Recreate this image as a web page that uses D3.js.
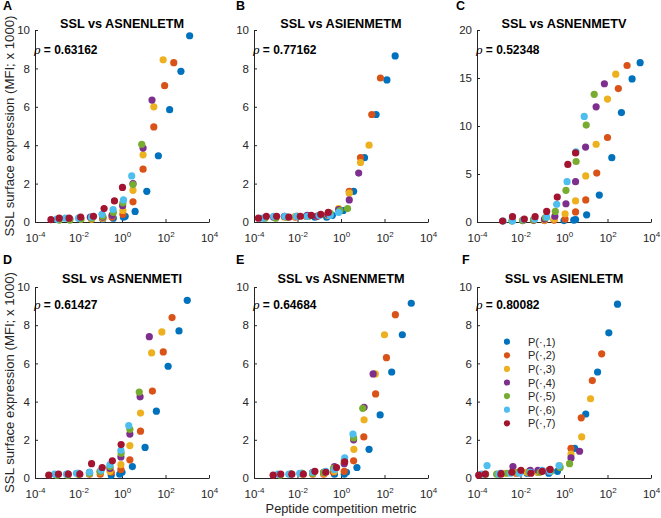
<!DOCTYPE html>
<html><head><meta charset="utf-8">
<script src="https://cdn.jsdelivr.net/npm/d3@7"></script>
<style>
body{margin:0;background:#fff}
svg{display:block}
text{font-family:"Liberation Sans",Arial,Helvetica,sans-serif}
</style>
</head><body>
<svg id="chart" width="661" height="518"></svg>
<script>
// ---------------- DATA ----------------
const panelLetters = ["A","B","C","D","E","F"];
const panelTitles = ["SSL vs ASNENLETM","SSL vs ASIENMETM","SSL vs ASNENMETV","SSL vs ASNENMETI","SSL vs ASNENMETM","SSL vs ASIENLETM"];
const rhoValues = ["0.63162","0.77162","0.52348","0.61427","0.64684","0.80082"];
const yMaxes = [10,10,20,10,10,10];
const yTickSets = [[0,2,4,6,8,10],[0,2,4,6,8,10],[0,5,10,15,20],[0,2,4,6,8,10],[0,2,4,6,8,10],[0,2,4,6,8,10]];
const xTickExponents = [-4,-2,0,2,4];
const seriesNames = ["P(\u00B7,1)","P(\u00B7,2)","P(\u00B7,3)","P(\u00B7,4)","P(\u00B7,5)","P(\u00B7,6)","P(\u00B7,7)"];
const seriesColors = ["#0072BD","#D95319","#EDB120","#7E2F8E","#77AC30","#4DBEEE","#A2142F"];
const yAxisLabel = "SSL surface expression (MFI; x 1000)";
const xAxisLabel = "Peptide competition metric";

// [peptide competition metric, SSL surface expression] per series P(·,1..7)
const pointsA = [
  [[1290,9.7],[513,7.85],[155,5.85],[47,3.45],[13.8,1.6],[4.0,0.55],[1.4,0.3],[1.17,0.25],[0.4,0.2],[0.13,0.15]],
  [[240,8.3],[91,7.1],[29,4.95],[9.3,2.75],[3.2,1.05],[1.1,0.4],[0.35,0.25],[0.13,0.2],[0.04,0.15]],
  [[78,8.45],[29,6.0],[9.3,3.5],[3.2,1.65],[1.1,0.6],[0.35,0.35],[0.13,0.2],[0.04,0.15],[0.013,0.15]],
  [[24,6.35],[9.3,3.85],[3.2,2.0],[1.07,0.85],[0.35,0.35],[0.13,0.25],[0.035,0.25],[0.011,0.2],[0.004,0.15]],
  [[8.1,4.05],[3.2,1.95],[1.1,1.0],[0.4,0.5],[0.13,0.3],[0.04,0.2],[0.013,0.15],[0.004,0.1],[0.0013,0.1]],
  [[2.8,2.4],[1.17,1.15],[0.39,0.65],[0.12,0.4],[0.04,0.25],[0.01,0.2],[0.0025,0.2],[0.001,0.15]],
  [[1.05,1.8],[0.45,1.1],[0.15,0.7],[0.049,0.3],[0.0126,0.25],[0.0037,0.2],[0.0013,0.2],[0.00054,0.12]]
];
const pointsB = [
  [[309,8.65],[129,7.4],[41,5.6],[12,3.35],[3.8,1.6],[1.26,0.6],[0.4,0.35],[0.22,0.25],[0.063,0.25]],
  [[65,7.5],[26,5.6],[7.9,3.35],[2.4,1.6],[0.79,0.65],[0.25,0.4],[0.079,0.3],[0.025,0.3],[0.0079,0.25]],
  [[19.5,4.0],[7.9,3.1],[2.4,1.5],[0.78,0.7],[0.25,0.35],[0.079,0.3],[0.028,0.3],[0.0079,0.3],[0.0025,0.25]],
  [[6.5,2.55],[2.4,1.15],[0.78,0.65],[0.25,0.4],[0.079,0.3],[0.028,0.35],[0.01,0.3],[0.0025,0.3],[0.0008,0.25]],
  [[2.0,0.7],[0.89,0.6],[0.32,0.45],[0.1,0.35],[0.032,0.3],[0.01,0.3],[0.0032,0.25],[0.001,0.2],[0.00032,0.2]],
  [[0.78,0.5],[0.32,0.35],[0.1,0.35],[0.028,0.3],[0.0089,0.3],[0.0026,0.3],[0.0008,0.3],[0.00025,0.2]],
  [[0.26,0.5],[0.117,0.4],[0.043,0.35],[0.0135,0.3],[0.004,0.25],[0.0011,0.3],[0.00037,0.3],[0.00016,0.2]]
];
const pointsC = [
  [[3160,16.6],[1350,14.9],[437,11.4],[158,6.7],[42,2.8],[11,0.75],[3.4,0.25],[2.8,0.2],[1.0,0.15]],
  [[794,16.3],[316,13.9],[100,8.8],[32,5.1],[10,2.3],[3.4,1.05],[1.12,0.3],[0.35,0.2],[0.126,0.15]],
  [[240,15.4],[100,12.8],[30,8.1],[10,4.8],[3.4,2.2],[1.12,0.85],[0.35,0.3],[0.126,0.2],[0.04,0.15]],
  [[72,14.4],[30,12.0],[9.8,7.8],[3.4,4.2],[1.23,1.9],[0.38,0.6],[0.126,0.3],[0.04,0.2],[0.0126,0.15]],
  [[24.5,13.3],[10.5,10.1],[3.6,6.3],[1.23,3.3],[0.4,1.1],[0.14,0.45],[0.04,0.25],[0.0126,0.15],[0.004,0.1]],
  [[8.5,11.0],[3.55,7.3],[1.38,4.2],[0.46,1.85],[0.16,0.5],[0.045,0.3],[0.014,0.25],[0.0043,0.1],[0.0016,0.1]],
  [[3.4,7.2],[1.5,6.0],[0.49,2.6],[0.16,1.1],[0.047,0.55],[0.015,0.3],[0.0043,0.55],[0.0015,0.1]]
];
const pointsD = [
  [[1000,9.3],[417,7.7],[132,5.85],[38,3.5],[11.5,1.6],[3.0,0.6],[1.0,0.3],[0.79,0.2],[0.32,0.15]],
  [[200,8.4],[79,6.6],[25,4.55],[7.1,2.45],[2.3,0.95],[0.89,0.45],[0.32,0.3],[0.1,0.2],[0.032,0.2]],
  [[68,7.65],[23,6.55],[7.1,3.4],[2.3,1.7],[0.89,0.7],[0.28,0.35],[0.1,0.3],[0.032,0.25],[0.01,0.2]],
  [[18,7.4],[6.8,4.25],[2.3,2.3],[0.89,1.1],[0.28,0.5],[0.1,0.35],[0.032,0.3],[0.01,0.25],[0.0032,0.2]],
  [[6.2,4.5],[2.3,2.55],[0.91,1.3],[0.28,0.6],[0.1,0.35],[0.032,0.25],[0.01,0.2],[0.0032,0.15],[0.001,0.15]],
  [[2.04,2.75],[0.89,1.45],[0.28,0.7],[0.11,0.4],[0.032,0.3],[0.008,0.25],[0.0028,0.2],[0.0008,0.2]],
  [[0.91,1.75],[0.36,0.9],[0.123,0.55],[0.04,0.75],[0.0115,0.2],[0.0034,0.2],[0.0012,0.2],[0.00043,0.15]]
];
const pointsE = [
  [[1700,9.15],[660,7.5],[214,5.55],[63,3.3],[19.5,1.5],[5.4,0.55],[1.78,0.3],[1.41,0.2],[0.5,0.2]],
  [[316,8.55],[123,6.3],[39,4.4],[11.2,2.15],[3.8,0.9],[1.41,0.35],[0.45,0.3],[0.16,0.2],[0.05,0.2]],
  [[100,7.5],[38,5.45],[11.5,3.05],[3.9,1.5],[1.41,0.8],[0.5,0.35],[0.16,0.25],[0.05,0.25],[0.016,0.2]],
  [[30,5.45],[11.5,3.7],[3.8,2.0],[1.41,0.75],[0.5,0.6],[0.16,0.3],[0.05,0.3],[0.016,0.25],[0.005,0.2]],
  [[10,3.65],[3.8,2.1],[1.41,0.9],[0.45,0.5],[0.16,0.3],[0.05,0.25],[0.016,0.25],[0.005,0.2],[0.0016,0.15]],
  [[3.55,2.3],[1.48,1.05],[0.5,0.45],[0.2,0.35],[0.05,0.3],[0.0126,0.25],[0.004,0.2],[0.00126,0.2]],
  [[1.48,0.85],[0.62,0.55],[0.2,0.3],[0.063,0.35],[0.0186,0.2],[0.0055,0.2],[0.0017,0.2],[0.00076,0.15]]
];
const pointsF = [
  [[288,9.1],[115,7.6],[35,5.55],[10,3.35],[3.1,1.55],[0.5,0.35],[0.2,0.25],[0.063,0.3],[0.02,0.25]],
  [[54,6.5],[20,5.1],[6.2,3.15],[2.1,1.55],[0.63,0.6],[0.2,0.4],[0.063,0.3],[0.02,0.3],[0.0063,0.25]],
  [[16.6,4.15],[6.5,2.15],[2.1,1.25],[0.63,0.65],[0.2,0.35],[0.063,0.3],[0.02,0.3],[0.0063,0.3],[0.002,0.25]],
  [[5.2,1.4],[2.1,1.05],[0.63,0.55],[0.2,0.35],[0.063,0.4],[0.028,0.4],[0.01,0.35],[0.0045,0.6],[0.00126,0.25]],
  [[1.8,0.75],[0.66,0.55],[0.25,0.35],[0.08,0.3],[0.025,0.3],[0.008,0.3],[0.0025,0.25],[0.0008,0.2],[0.00025,0.2]],
  [[0.59,0.65],[0.22,0.35],[0.1,0.4],[0.028,0.3],[0.0089,0.25],[0.0035,0.25],[0.001,0.2],[0.00029,0.65],[0.00016,0.2]],
  [[0.23,0.45],[0.1,0.35],[0.03,0.25],[0.0105,0.4],[0.004,0.3],[0.00126,0.2],[0.00024,0.2],[0.00012,0.15]]
];
const allPanels = [pointsA,pointsB,pointsC,pointsD,pointsE,pointsF];

// ---------------- LAYOUT ----------------
const svg = d3.select("#chart");
const axisColor = "#262626";
const colLeft = [35, 254, 477];
const plotW = 174;
const rowTop = [30, 287];
const rowBottom = [222, 478];
const letterX = [3, 236, 456, 3, 236, 462];
const letterY = [10, 264];
const titleY = [28, 283];
const rhoY = [54, 309];

allPanels.forEach((series, i) => {
  const col = i % 3, row = Math.floor(i / 3);
  const x0 = colLeft[col], x1 = x0 + plotW;
  const yT = rowTop[row], yB = rowBottom[row];
  const x = d3.scaleLog().domain([1e-4, 1e4]).range([x0, x1]);
  const y = d3.scaleLinear().domain([0, yMaxes[i]]).range([yB, yT]);
  const g = svg.append("g");

  // y axis
  const ya = g.append("g").attr("transform", `translate(${x0},0)`)
    .call(d3.axisLeft(y).tickValues(yTickSets[i]).tickSize(-3).tickSizeOuter(0).tickPadding(5));
  ya.select(".domain").attr("stroke", axisColor);
  ya.selectAll(".tick line").attr("stroke", axisColor);
  ya.selectAll(".tick text").attr("fill", axisColor).style("font-size", "11.5px")
    .style("font-family", '"Liberation Sans",Arial,sans-serif');

  // x axis
  const xa = g.append("g").attr("transform", `translate(0,${yB})`)
    .call(d3.axisBottom(x).tickValues(xTickExponents.map(e => Math.pow(10, e)))
      .tickSize(-3).tickSizeOuter(0).tickFormat(() => ""));
  xa.select(".domain").attr("stroke", axisColor);
  xa.selectAll(".tick line").attr("stroke", axisColor);
  xa.selectAll(".tick text").each(function(d, k) {
    const t = d3.select(this).text(null).attr("y", 20).attr("dy", null)
      .attr("fill", axisColor).style("font-size", "11.5px")
      .style("font-family", '"Liberation Sans",Arial,sans-serif');
    t.append("tspan").text("10");
    t.append("tspan").attr("dy", -5).style("font-size", "8px").text(String(xTickExponents[k]));
  });

  // points
  series.forEach((pts, s) => {
    g.append("g").selectAll("circle").data(pts).join("circle")
      .attr("cx", d => x(d[0])).attr("cy", d => y(d[1])).attr("r", 3.6)
      .attr("fill", seriesColors[s]);
  });

  // panel letter
  svg.append("text").attr("x", letterX[i]).attr("y", letterY[row])
    .style("font-size", "12.5px").style("font-weight", "bold").attr("fill", "#000").text(panelLetters[i]);
  // title
  svg.append("text").attr("x", (x0 + x1) / 2).attr("y", titleY[row]).attr("text-anchor", "middle")
    .style("font-size", "12.7px").style("font-weight", "bold").attr("fill", "#000").text(panelTitles[i]);
  // rho
  const rt = svg.append("text").attr("x", x0 - 1).attr("y", rhoY[row]).style("font-size", "12px").attr("fill", "#000");
  rt.append("tspan").style("font-style", "italic").style("font-family", '"DejaVu Serif",serif').style("font-size","11px").text("\u03C1");
  rt.append("tspan").style("font-weight", "bold").text(" = " + rhoValues[i]);

  // y label (first column)
  if (col === 0) {
    svg.append("text").attr("transform", `translate(14,${(yT + yB) / 2}) rotate(-90)`)
      .attr("text-anchor", "middle").style("font-size", "13.2px").attr("fill", axisColor).text(yAxisLabel);
  }
  // x label (bottom middle)
  if (row === 1 && col === 1) {
    svg.append("text").attr("x", (x0 + x1) / 2).attr("y", 513).attr("text-anchor", "middle")
      .style("font-size", "12.8px").attr("fill", axisColor).text(xAxisLabel);
  }
  // legend in last panel
  if (i === 5) {
    const lg = svg.append("g");
    seriesNames.forEach((nm, s) => {
      const cy = 341.7 + s * 13.6;
      lg.append("circle").attr("cx", 507).attr("cy", cy).attr("r", 3.1).attr("fill", seriesColors[s]);
      lg.append("text").attr("x", 528).attr("y", cy + 4).style("font-size", "11px").attr("fill", axisColor).text(nm);
    });
  }
});
</script>
</body></html>
